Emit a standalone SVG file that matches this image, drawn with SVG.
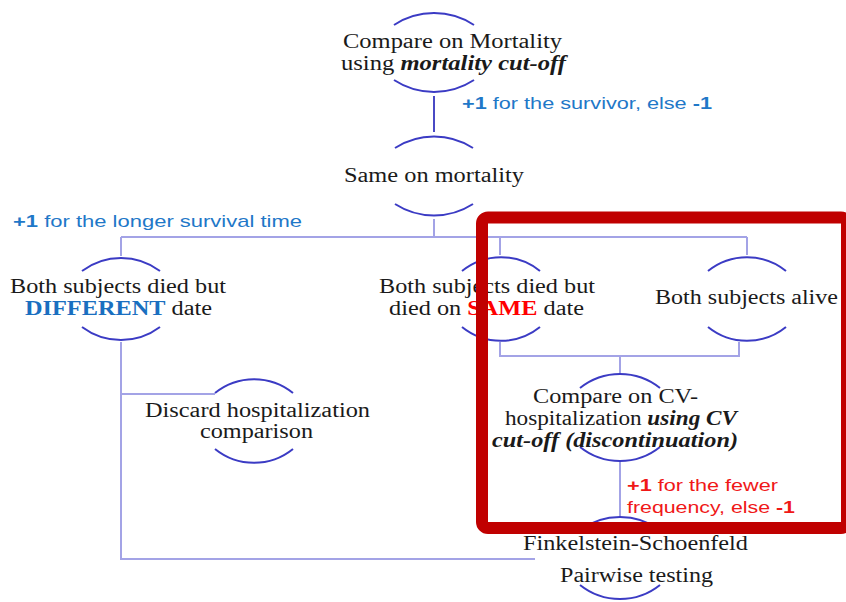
<svg xmlns="http://www.w3.org/2000/svg" width="846" height="602" viewBox="0 0 846 602">
<style>
.arc{fill:none;stroke:#3b3bc4;stroke-width:2}
.ln{fill:none;stroke:#a3a3e6;stroke-width:2}
.lnd{fill:none;stroke:#4a4ac4;stroke-width:2}
.t{font-family:"Liberation Serif","Times New Roman",serif;font-size:20px;fill:#1a1a1a}
.bi{font-weight:bold;font-style:italic}
.b{font-weight:bold}
.lb{font-family:"Liberation Sans",Arial,sans-serif;font-size:17px;fill:#1f78c8}
.lr{font-family:"Liberation Sans",Arial,sans-serif;font-size:17px;fill:#f01818}
</style>
<rect width="846" height="602" fill="#fff"/>
<g id="connectors">
<path class="lnd" d="M434,96V132"/>
<path class="ln" d="M434,219V237M121,237H747M121,237V256M500,237V255M747,237V255"/>
<path class="ln" d="M500,342V356H739V342M620,356V374"/>
<path class="ln" d="M620,462V517"/>
<path class="ln" d="M121,342V559H535M121,394H215"/>
</g>
<g id="n1">
<path class="arc" d="M394,25A73,73 0 0 1 474,25M394,80A73,73 0 0 0 474,80"/>
<text class="t" x="343" y="48" textLength="219" lengthAdjust="spacingAndGlyphs">Compare on Mortality</text>
<text class="t" x="341" y="70" textLength="225" lengthAdjust="spacingAndGlyphs">using <tspan class="bi">mortality cut-off</tspan></text>
</g>
<g id="label1">
<text class="lb" x="462" y="109" textLength="250" lengthAdjust="spacingAndGlyphs"><tspan class="b">+1</tspan> for the survivor, else <tspan class="b">-1</tspan></text>
</g>
<g id="n2">
<path class="arc" d="M395,148A72,72 0 0 1 473,148M395,204A72,72 0 0 0 473,204"/>
<text class="t" x="344" y="182" textLength="180" lengthAdjust="spacingAndGlyphs">Same on mortality</text>
</g>
<g id="label2">
<text class="lb" x="13" y="227" textLength="289" lengthAdjust="spacingAndGlyphs"><tspan class="b">+1</tspan> for the longer survival time</text>
</g>
<g id="n3">
<path class="arc" d="M82,271A65,65 0 0 1 160,271M82,327A65,65 0 0 0 160,327"/>
<text class="t" x="10" y="293" textLength="216" lengthAdjust="spacingAndGlyphs">Both subjects died but</text>
<text class="t" x="25" y="315" textLength="187" lengthAdjust="spacingAndGlyphs"><tspan class="b" fill="#1a6fc0">DIFFERENT</tspan> date</text>
</g>
<g id="n4">
<path class="arc" d="M462,271A62,62 0 0 1 540,271M462,327A62,62 0 0 0 540,327"/>
<text class="t" x="379" y="293" textLength="216" lengthAdjust="spacingAndGlyphs">Both subjects died but</text>
<text class="t" x="389" y="315" textLength="195" lengthAdjust="spacingAndGlyphs">died on <tspan class="b" fill="#ff0000">SAME</tspan> date</text>
</g>
<g id="n5">
<path class="arc" d="M708,271A62,62 0 0 1 786,271M708,327A62,62 0 0 0 786,327"/>
<text class="t" x="655" y="304" textLength="183" lengthAdjust="spacingAndGlyphs">Both subjects alive</text>
</g>
<g id="n6">
<path class="arc" d="M580,388A64,64 0 0 1 660,388M580,447A64,64 0 0 0 660,447"/>
<text class="t" x="533" y="403" textLength="165" lengthAdjust="spacingAndGlyphs">Compare on CV-</text>
<text class="t" x="505" y="425" textLength="232" lengthAdjust="spacingAndGlyphs">hospitalization <tspan class="bi">using CV</tspan></text>
<text class="t bi" x="492" y="447" textLength="246" lengthAdjust="spacingAndGlyphs">cut-off (discontinuation)</text>
</g>
<g id="n7">
<path class="arc" d="M215,393A62,62 0 0 1 293,393M215,449A62,62 0 0 0 293,449"/>
<text class="t" x="145" y="417" textLength="225" lengthAdjust="spacingAndGlyphs">Discard hospitalization</text>
<text class="t" x="200" y="438" textLength="113" lengthAdjust="spacingAndGlyphs">comparison</text>
</g>
<g id="label3">
<text class="lr" x="627" y="491" textLength="151" lengthAdjust="spacingAndGlyphs"><tspan class="b">+1</tspan> for the fewer</text>
<text class="lr" x="627" y="513" textLength="168" lengthAdjust="spacingAndGlyphs">frequency, else <tspan class="b">-1</tspan></text>
</g>
<g id="n8">
<path class="arc" d="M580,530A68,68 0 0 1 660,530M580,585A64,64 0 0 0 660,585"/>
<text class="t" x="523" y="550" textLength="225" lengthAdjust="spacingAndGlyphs">Finkelstein-Schoenfeld</text>
<text class="t" x="560" y="582" textLength="153" lengthAdjust="spacingAndGlyphs">Pairwise testing</text>
</g>
<g id="highlight">
<rect x="482" y="217.5" width="365" height="310.5" rx="6" fill="none" stroke="#c00000" stroke-width="12"/>
</g>
</svg>
